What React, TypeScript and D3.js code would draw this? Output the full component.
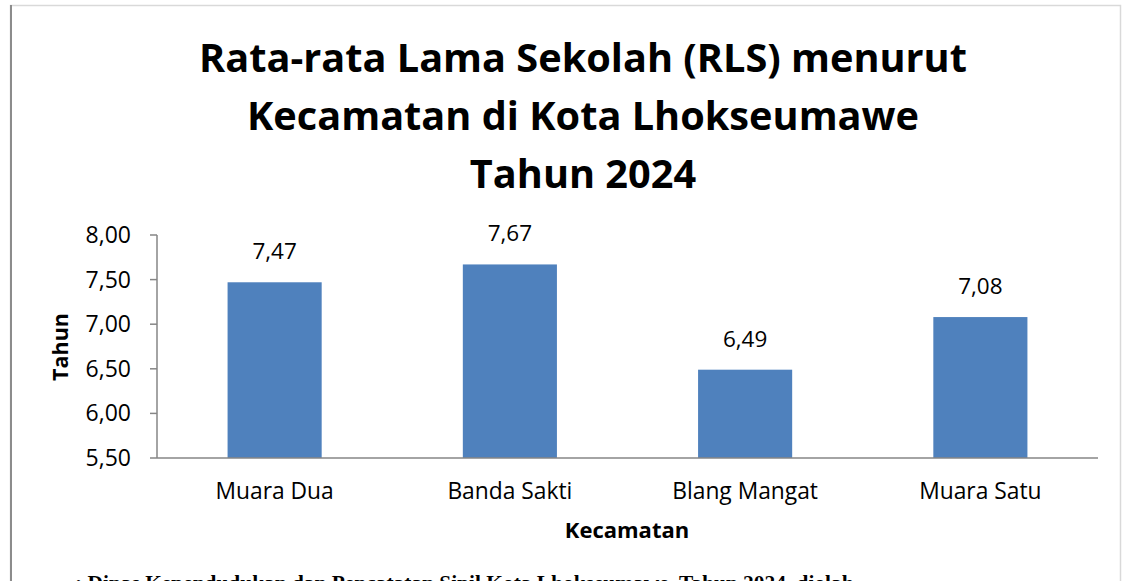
import React from "react";
import * as d3 from "d3";

const categories = ["Muara Dua", "Banda Sakti", "Blang Mangat", "Muara Satu"];
const values = [7.47, 7.67, 6.49, 7.08];
const yTicks = [5.5, 6.0, 6.5, 7.0, 7.5, 8.0];
const titleLines = [
  "Rata-rata Lama Sekolah (RLS) menurut",
  "Kecamatan di Kota Lhokseumawe",
  "Tahun 2024",
];
const yAxisTitle = "Tahun";
const xAxisTitle = "Kecamatan";
const sourceNote = ": Dinas Kependudukan dan Pencatatan Sipil Kota Lhokseumawe, Tahun 2024, diolah";

const W = 1126;
const H = 581;
const plot = { left: 157, right: 1098, top: 235, bottom: 458 };
const font = "'Open Sans', 'DejaVu Sans', sans-serif";
const fmt = (v: number) => v.toFixed(2).replace(".", ",");

export default function App() {
  const x = d3
    .scaleBand<string>()
    .domain(categories)
    .range([plot.left, plot.right])
    .paddingInner(0.6)
    .paddingOuter(0.3);
  const y = d3.scaleLinear().domain([5.5, 8.0]).range([plot.bottom, plot.top]);
  const axisColor = "#868686";

  return (
    <svg
      width={W}
      height={H}
      style={{ position: "absolute", left: 0, top: 0, background: "#fff" }}
      fontFamily={font}
    >
      <rect x={0} y={0} width={W} height={H} fill="#fff" />
      {/* chart border */}
      <rect x={10.5} y={5.5} width={1110} height={600} fill="none" stroke="#d9d9d9" strokeWidth={1.5} />
      <line x1={11} x2={11} y1={5} y2={H} stroke="#8c8c8c" strokeWidth={2} />

      {/* title */}
      {titleLines.map((t, i) => (
        <text
          key={i}
          x={583}
          y={72 + i * 58}
          textAnchor="middle"
          fontWeight="bold"
          fontSize={39.7}
          fill="#000"
        >
          {t}
        </text>
      ))}

      {/* y axis */}
      <line x1={plot.left} x2={plot.left} y1={plot.top} y2={plot.bottom} stroke={axisColor} strokeWidth={1.5} />
      {yTicks.map((t) => (
        <g key={t}>
          <line x1={plot.left - 7} x2={plot.left} y1={y(t)} y2={y(t)} stroke={axisColor} strokeWidth={1.5} />
          <text x={131} y={y(t)} dy="0.35em" textAnchor="end" fontSize={23} fill="#000">
            {fmt(t)}
          </text>
        </g>
      ))}

      {/* bars */}
      {categories.map((c, i) => (
        <g key={c}>
          <rect
            x={x(c)!}
            y={y(values[i])}
            width={x.bandwidth()}
            height={y(5.5) - y(values[i])}
            fill="#4f81bd"
          />
          <text
            x={x(c)! + x.bandwidth() / 2}
            y={y(values[i]) - 23}
            textAnchor="middle"
            fontSize={22.5}
            fill="#000"
          >
            {fmt(values[i])}
          </text>
          <text
            x={x(c)! + x.bandwidth() / 2}
            y={499}
            textAnchor="middle"
            fontSize={22.8}
            fill="#000"
          >
            {c}
          </text>
        </g>
      ))}

      {/* x axis */}
      <line x1={plot.left} x2={plot.right} y1={plot.bottom} y2={plot.bottom} stroke={axisColor} strokeWidth={1.5} />

      {/* axis titles */}
      <text
        transform={`translate(68, 347) rotate(-90)`}
        textAnchor="middle"
        fontWeight="bold"
        fontSize={21.5}
        fill="#000"
      >
        {yAxisTitle}
      </text>
      <text x={627} y={538} textAnchor="middle" fontWeight="bold" fontSize={22} fill="#000">
        {xAxisTitle}
      </text>

      {/* source note (cut off at bottom) */}
      <text
        x={75}
        y={590}
        fontFamily="'Liberation Serif', 'Times New Roman', serif"
        fontWeight="bold"
        fontSize={21.4}
        fill="#000"
      >
        {sourceNote}
      </text>
    </svg>
  );
}
